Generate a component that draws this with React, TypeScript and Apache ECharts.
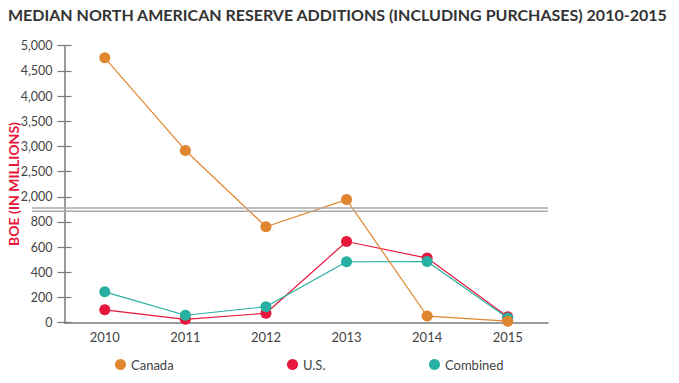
import React, { useEffect, useRef } from "react";
import * as echarts from "echarts";

const years = ["2010", "2011", "2012", "2013", "2014", "2015"];
const canada = [4760, 2920, 762, 1945, 53, 12];
const us = [102, 27, 75, 645, 513, 48];
const combined = [245, 59, 127, 484, 486, 37];
// tick labels of the broken axis, one per display step
const tickValues = [0, 200, 400, 600, 800, 2000, 2500, 3000, 3500, 4000, 4500, 5000];

const COLORS = { canada: "#e0862f", us: "#e8173c", combined: "#27b0a1" };

// broken-axis transform: lower part 200 per step, upper part 500 per step
function toDisplay(v: number): number {
  if (v <= 900) return v / 200;
  if (v >= 1750) return 5 + (v - 2000) / 500;
  return 4.5;
}

export default function App() {
  const ref = useRef<HTMLDivElement>(null);
  useEffect(() => {
    if (!ref.current) return;
    const chart = echarts.init(ref.current, null, { renderer: "svg" });
    const font = "Lato";
    const mk = (name: string, data: number[], color: string, z: number) => ({
      name,
      type: "line",
      data: data.map((v) => toDisplay(v)),
      symbol: "circle",
      symbolSize: 11,
      z,
      itemStyle: { color },
      lineStyle: { color, width: 1.2 },
    });
    chart.setOption({
      animation: false,
      backgroundColor: "#ffffff",
      title: {
        text: "MEDIAN NORTH AMERICAN RESERVE ADDITIONS (INCLUDING PURCHASES) 2010-2015",
        left: 8,
        top: 6,
        padding: 0,
        textStyle: { fontFamily: font, fontWeight: "bold", fontSize: 16, color: "#333333" },
      },
      grid: { left: 64.5, right: 131, top: 45.7, bottom: 60.3, containLabel: false, outerBoundsMode: "none" },
      legend: [
        { data: ["Canada"], left: 115, top: 358 },
        { data: ["U.S."], left: 287, top: 358 },
        { data: ["Combined"], left: 429, top: 358 },
      ].map((l) => ({
        ...l,
        padding: 0,
        icon: "circle",
        itemWidth: 11,
        itemHeight: 11,
        itemGap: 5,
        textStyle: { fontFamily: font, fontSize: 13, color: "#444444" },
      })),
      xAxis: {
        type: "category",
        data: years,
        boundaryGap: true,
        axisLine: { lineStyle: { color: "#7a7a7a", width: 1.5 } },
        axisTick: { show: false },
        axisLabel: { fontFamily: font, fontSize: 13, color: "#444444", margin: 8 },
      },
      yAxis: [
        {
          type: "value",
          min: 0,
          max: 11,
          interval: 1,
          axisLine: { show: true, lineStyle: { color: "#7a7a7a", width: 1.5 } },
          axisTick: { show: true, length: 7, lineStyle: { color: "#7a7a7a", width: 1.2 } },
          splitLine: { show: false },
          axisLabel: {
            fontFamily: font,
            fontSize: 12.5,
            color: "#444444",
            margin: 12,
            formatter: (v: number) => {
              const t = tickValues[Math.round(v)];
              return t === undefined ? "" : t.toLocaleString("en-US");
            },
          },
        },
        {
          type: "value",
          min: 0,
          max: 11,
          interval: 1,
          position: "left",
          offset: 0,
          axisLine: { show: false },
          axisTick: { show: true, inside: true, length: 7, lineStyle: { color: "#7a7a7a", width: 1.2 } },
          axisLabel: { show: false },
          splitLine: { show: false },
        },
      ],
      series: [
        mk("U.S.", us, COLORS.us, 2),
        mk("Combined", combined, COLORS.combined, 3),
        mk("Canada", canada, COLORS.canada, 4),
      ],
    });
    const yA = chart.convertToPixel({ yAxisIndex: 0 }, 4.55) as number;
    const yB = chart.convertToPixel({ yAxisIndex: 0 }, 4.43) as number;
    const xR = chart.convertToPixel({ xAxisIndex: 0 }, "2015") as number;
    const x0 = chart.convertToPixel({ xAxisIndex: 0 }, "2010") as number;
    const half = (xR - x0) / 10;
    const right = xR + half;
    chart.setOption({
      graphic: [
        { type: "line", shape: { x1: 32, y1: yA, x2: right, y2: yA }, style: { stroke: "#aaaaaa", lineWidth: 1.5 }, z: 10 },
        { type: "line", shape: { x1: 32, y1: yB, x2: right, y2: yB }, style: { stroke: "#aaaaaa", lineWidth: 1.5 }, z: 10 },
        {
          type: "text",
          x: 13,
          y: 184,
          rotation: Math.PI / 2,
          style: {
            text: "BOE (IN MILLIONS)",
            fill: "#e8173c",
            font: `bold 14px ${font}`,
            align: "center",
            verticalAlign: "middle",
          },
        },
      ],
    });
    return () => chart.dispose();
  }, []);
  return <div ref={ref} style={{ position: "fixed", left: 0, top: 0, width: 679, height: 383 }} />;
}
